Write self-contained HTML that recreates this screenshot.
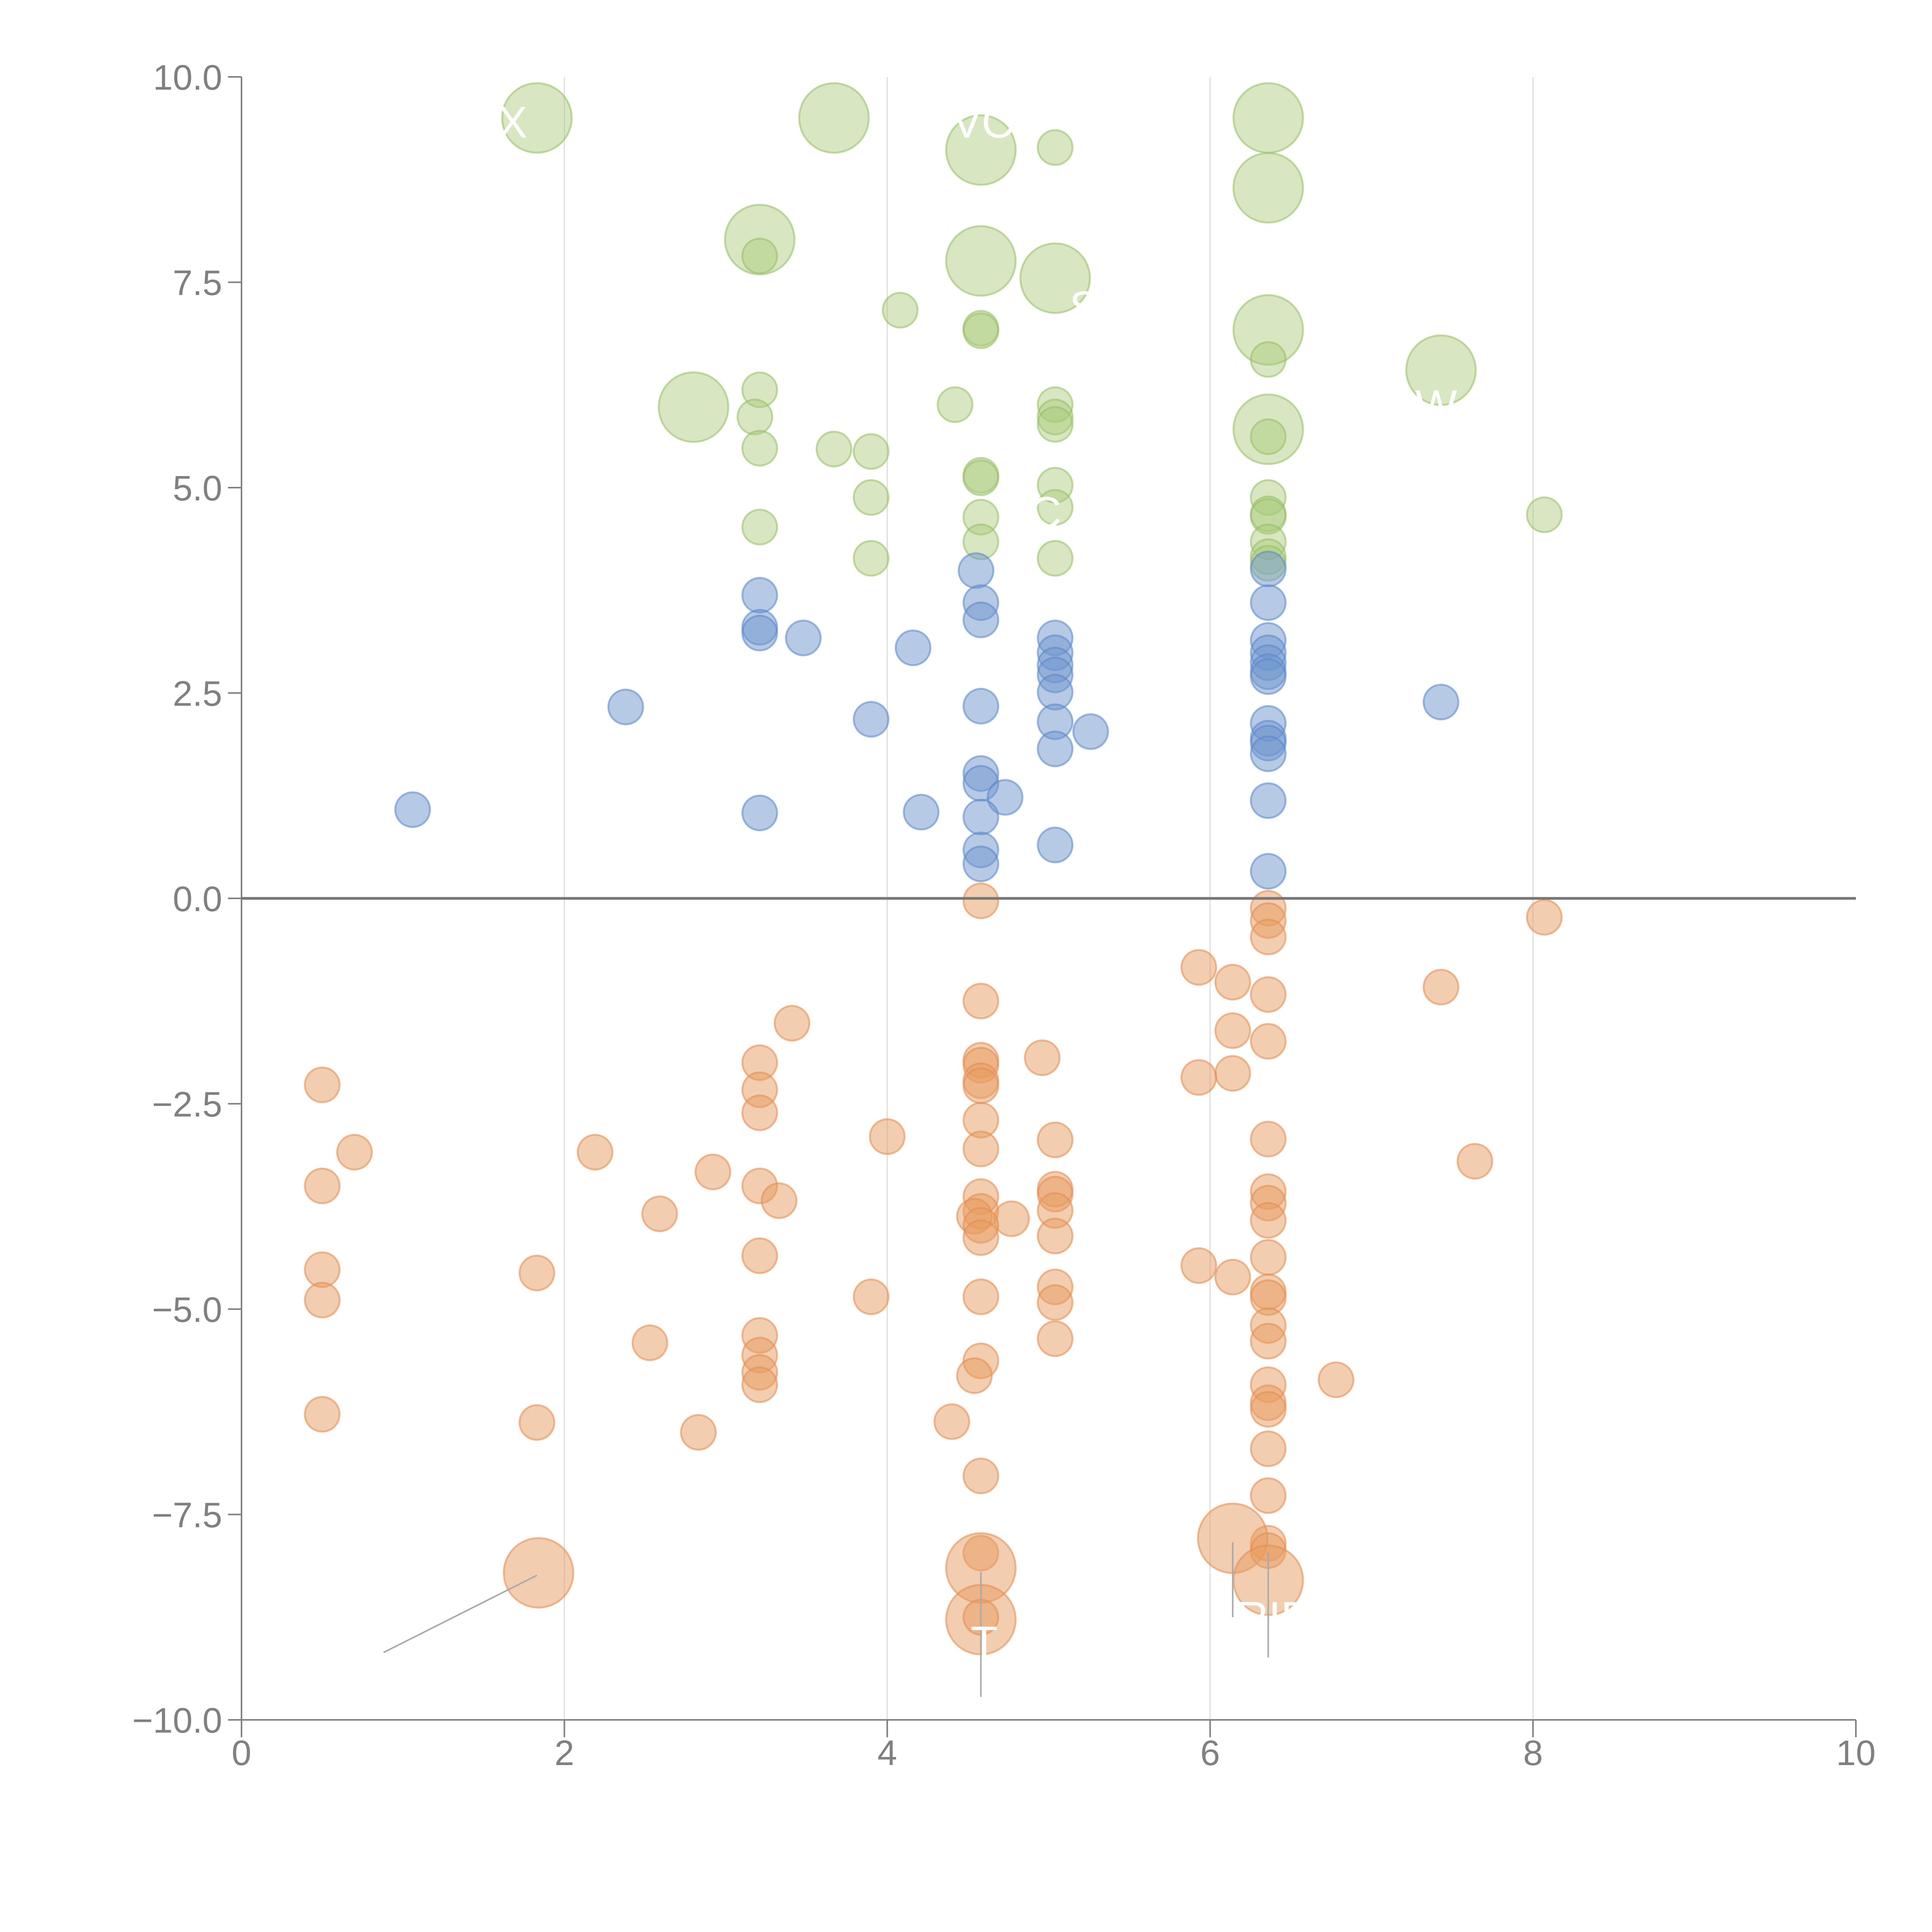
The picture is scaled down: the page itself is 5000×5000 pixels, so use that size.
<!DOCTYPE html>
<html><head><meta charset="utf-8"><style>html,body{margin:0;padding:0;background:#fff}svg{display:block}</style></head>
<body>
<svg id="chart" width="5000" height="5000" viewBox="0 0 5000 5000" xmlns="http://www.w3.org/2000/svg" font-family="Liberation Sans, sans-serif">
<g id="grid"></g>
<g id="marks"></g>
<g id="axes"></g>
<g id="labels"></g>
</svg>
<script>
const xTicks=[0,2,4,6,8,10];
const yTicks=[-10,-7.5,-5,-2.5,0,2.5,5,7.5,10];
const yTickLabels=["\u221210.0","\u22127.5","\u22125.0","\u22122.5","0.0","2.5","5.0","7.5","10.0"];
const greenX=[1.83,3.67,4.58,5.04,6.36,6.36,3.21,3.21,4.58,5.04,4.08,4.58,4.58,6.36,6.36,7.43,2.80,3.21,3.18,3.21,3.67,3.90,4.42,5.04,5.04,5.04,6.36,6.36,4.58,4.58,5.04,3.90,5.04,4.58,6.36,6.36,6.36,8.07,3.21,4.58,6.36,6.36,3.90,5.04,6.36];
const greenY=[9.50,9.50,9.11,9.14,9.50,8.65,8.02,7.82,7.76,7.55,7.16,6.94,6.91,6.92,6.56,6.43,5.98,6.19,5.86,5.48,5.47,5.44,6.01,6.01,5.86,5.77,5.71,5.62,5.15,5.12,5.03,4.88,4.76,4.64,4.88,4.68,4.65,4.67,4.52,4.34,4.34,4.16,4.14,4.14,4.08];
const greenS=[2,2,2,1,2,2,2,1,2,2,1,1,1,2,1,2,2,1,1,1,1,1,1,1,1,1,2,1,1,1,1,1,1,1,1,1,1,1,1,1,1,1,1,1,1];
const blueX=[4.55,6.36,3.21,4.58,6.36,4.58,3.21,3.21,3.48,5.04,6.36,4.16,5.04,6.36,5.04,6.36,6.36,5.04,6.36,5.04,4.58,2.38,7.43,3.90,5.04,6.36,5.26,6.36,6.36,5.04,6.36,4.58,4.58,4.73,6.36,1.06,3.21,4.21,4.58,5.04,4.58,4.58,6.36];
const blueY=[3.99,4.01,3.69,3.60,3.60,3.39,3.30,3.23,3.17,3.17,3.14,3.05,2.99,2.99,2.84,2.87,2.76,2.72,2.70,2.51,2.34,2.33,2.39,2.18,2.15,2.13,2.03,1.95,1.89,1.82,1.76,1.52,1.40,1.23,1.19,1.08,1.04,1.05,0.99,0.65,0.59,0.42,0.33];
const orangeX=[4.58,6.36,6.36,6.36,8.07,5.93,6.14,7.43,6.36,4.58,3.41,6.14,6.36,4.96,4.58,3.21,4.58,6.14,5.93,4.58,0.50,4.58,3.21,3.21,4.58,4.00,6.36,5.04,4.58,0.70,2.19,7.64,2.92,0.50,3.21,5.04,6.36,5.04,4.58,3.33,6.36,5.04,4.58,2.59,4.54,4.77,6.36,4.58,4.58,5.04,3.21,6.36,5.93,0.50,1.83,6.14,5.04,6.36,3.90,4.58,6.36,0.50,5.04,6.36,3.21,5.04,6.36,2.53,3.21,4.58,3.21,4.54,6.78,3.21,6.36,6.36,6.36,0.50,4.40,1.83,2.83,6.36,4.58,6.36,6.36,6.14,6.36,4.58,1.84,4.58,6.36,4.58,4.58];
const orangeY=[-0.03,-0.12,-0.27,-0.47,-0.23,-0.84,-1.02,-1.08,-1.17,-1.25,-1.52,-1.61,-1.74,-1.94,-1.97,-2.00,-2.03,-2.13,-2.18,-2.22,-2.27,-2.28,-2.33,-2.61,-2.70,-2.90,-2.93,-2.94,-3.05,-3.09,-3.09,-3.20,-3.33,-3.50,-3.50,-3.54,-3.57,-3.60,-3.63,-3.68,-3.71,-3.80,-3.81,-3.84,-3.87,-3.90,-3.92,-3.98,-4.13,-4.11,-4.35,-4.37,-4.47,-4.52,-4.56,-4.61,-4.73,-4.79,-4.85,-4.85,-4.86,-4.89,-4.92,-5.20,-5.32,-5.36,-5.39,-5.41,-5.56,-5.63,-5.77,-5.81,-5.86,-5.92,-5.92,-6.14,-6.22,-6.28,-6.37,-6.38,-6.50,-6.70,-7.03,-7.27,-7.85,-7.79,-7.94,-7.97,-8.21,-8.15,-8.30,-8.78,-8.75];
const orangeS=[1,1,1,1,1,1,1,1,1,1,1,1,1,1,1,1,1,1,1,1,1,1,1,1,1,1,1,1,1,1,1,1,1,1,1,1,1,1,1,1,1,1,1,1,1,1,1,1,1,1,1,1,1,1,1,1,1,1,1,1,1,1,1,1,1,1,1,1,1,1,1,1,1,1,1,1,1,1,1,1,1,1,1,1,1,2,1,1,2,2,2,2,1];
const NS="http://www.w3.org/2000/svg";
const X0=625,X1=4803,YT=199,YB=4451;
function sx(v){return X0+(v-0)/10*(X1-X0);}
function sy(v){return YB-(v+10)/20*(YB-YT);}
function el(t,a,p){const e=document.createElementNS(NS,t);for(const k in a)e.setAttribute(k,a[k]);p.appendChild(e);return e;}
const grid=document.getElementById('grid'),marks=document.getElementById('marks'),axes=document.getElementById('axes'),labels=document.getElementById('labels');
[2,4,6,8].forEach(t=>{const l=el('line',{x1:sx(t),x2:sx(t),y1:YT,y2:YB,stroke:'#dddddd','stroke-width':3},grid);

});
function series(xs,ys,ss,fill,stroke,name){xs.forEach((x,i)=>{const r=ss[i]==2?90:45;
const c=el('circle',{cx:sx(x),cy:sy(ys[i]),r:r,fill:fill,stroke:stroke,'stroke-width':5},marks);

});}
series(greenX,greenY,greenS,'rgba(168,201,120,0.45)','rgba(150,190,100,0.55)','green-point');
series(blueX,blueY,blueX.map(()=>1),'rgba(110,150,205,0.5)','rgba(90,135,200,0.55)','blue-point');
series(orangeX,orangeY,orangeS,'rgba(232,155,95,0.5)','rgba(225,140,80,0.55)','orange-point');
el('line',{x1:X0,x2:X0,y1:YT,y2:YB,stroke:'#808080','stroke-width':4},axes);
el('line',{x1:X0,x2:X1,y1:YB,y2:YB,stroke:'#808080','stroke-width':4},axes);
const z=el('line',{x1:X0,x2:X1,y1:sy(0),y2:sy(0),stroke:'#777777','stroke-width':7},axes);


yTicks.forEach((t,i)=>{el('line',{x1:X0-35,x2:X0,y1:sy(t),y2:sy(t),stroke:'#808080','stroke-width':4},axes);
const tx=el('text',{x:X0-50,y:sy(t)+33,'text-anchor':'end','font-size':92,fill:'#808080'},axes);tx.textContent=yTickLabels[i];

});
xTicks.forEach(t=>{el('line',{x1:sx(t),x2:sx(t),y1:YB,y2:YB+45,stroke:'#808080','stroke-width':4},axes);
const tx=el('text',{x:sx(t),y:4568,'text-anchor':'middle','font-size':92,fill:'#808080'},axes);tx.textContent=String(t);

});
[[0.88,-9.18,1.83,-8.24],[4.58,-8.2,4.58,-9.72],[6.14,-7.84,6.14,-8.75],[6.36,-7.95,6.36,-9.24]].forEach(a=>{
const l=el('line',{x1:sx(a[0]),y1:sy(a[1]),x2:sx(a[2]),y2:sy(a[3]),stroke:'#aaaaaa','stroke-width':4},labels);

});
[["X",1.68,9.45],["VO",4.6,9.45],["S",5.22,7.2],["C",4.98,4.7],["W",7.4,6.0],["T",4.6,-9.05],["RID",6.4,-8.75]].forEach(a=>{
const t=el('text',{x:sx(a[1]),y:sy(a[2])+40,'text-anchor':'middle','font-size':115,fill:'#ffffff'},labels);t.textContent=a[0];

});
</script>
</body></html>
